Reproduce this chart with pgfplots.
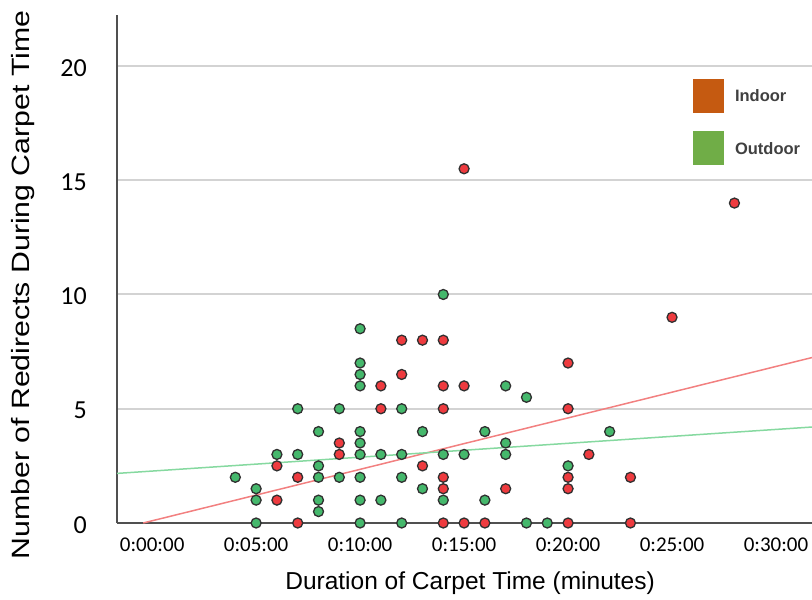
\documentclass[border=0pt]{standalone}
\usepackage{pgfplots}
\pgfplotsset{compat=1.18}
\usepackage{fontspec}
\setmainfont{Liberation Sans}
\newfontfamily\calfont{Carlito}

\definecolor{indoorPt}{HTML}{EE3B3F}
\definecolor{outdoorPt}{HTML}{45B86C}
\definecolor{indoorKey}{HTML}{C55A11}
\definecolor{outdoorKey}{HTML}{70AD47}
\definecolor{indoorFit}{HTML}{F28080}
\definecolor{outdoorFit}{HTML}{86D9A0}
\definecolor{gridC}{HTML}{D3D3D3}
\definecolor{axisC}{HTML}{505050}
\definecolor{ptEdge}{HTML}{303030}
\definecolor{keyText}{HTML}{404040}

\begin{document}
\begin{tikzpicture}
\begin{axis}[
  scale only axis, width=695pt, height=508pt,
  xmin=-1.69, xmax=31.73, ymin=0, ymax=22.23,
  axis x line*=bottom, axis y line*=left,
  x axis line style={draw=axisC, line width=2pt},
  y axis line style={draw=axisC, line width=2pt},
  ymajorgrids, major grid style={gridC, line width=2pt},
  tick style={draw=none}, major tick length=0pt,
  xtick={0,5,10,15,20,25,30},
  xticklabels={\raisebox{-3pt}{0:00:00},0:05:00,0:10:00,\raisebox{-5pt}{0:15:00},0:20:00,0:25:00,\raisebox{-5pt}{0:30:00}},
  ytick={0,5,10,15,20},
  yticklabels={0,5,10,15,20},
  xticklabel style={font=\calfont\fontsize{21}{21}\selectfont, anchor=north, inner sep=0pt, yshift=-15pt},
  yticklabel style={font=\calfont\fontsize{26}{26}\selectfont, anchor=east, inner sep=0pt, xshift=-30pt, yshift=-2pt},
  clip=false,
  legend style={at={(rel axis cs:0.8283,0.874)}, anchor=north west, draw=none, fill=none,
    inner sep=0pt, outer sep=0pt, row sep=19pt,
    font=\bfseries\fontsize{16.5}{16.5}\selectfont, text=keyText,
    nodes={inner sep=0pt},
    /tikz/every odd column/.append style={column sep=12pt}},
  legend cell align=left,
]
% legend keys
\addlegendimage{legend image code/.code={\fill[indoorKey] (0pt,-15.6pt) rectangle (30pt,17.4pt);}}
\addlegendentry{Indoor}
\addlegendimage{legend image code/.code={\fill[outdoorKey] (0pt,-15.6pt) rectangle (30pt,17.4pt);}}
\addlegendentry{Outdoor}

% linear fits
\addplot[indoorFit, line width=1.5pt, forget plot] coordinates {(-0.43,0) (31.73,7.24)};
\addplot[outdoorFit, line width=1.5pt, forget plot] coordinates {(-1.69,2.17) (31.73,4.20)};

% outdoor observations (minutes, redirects)
\addplot[only marks, mark=*, mark size=5pt, mark options={fill=outdoorPt, draw=ptEdge, line width=1.3pt}, forget plot]
coordinates {
(4,2)
(5,1.5) (5,1) (5,0)
(6,3)
(7,5) (7,3)
(8,4) (8,2.5) (8,2) (8,1) (8,0.5)
(9,5) (9,2)
(10,8.5) (10,7) (10,6.5) (10,6) (10,4) (10,3.5) (10,3) (10,2) (10,1) (10,0)
(11,3) (11,1)
(12,5) (12,3) (12,2) (12,0)
(13,4) (13,1.5)
(14,10) (14,3) (14,1)
(15,3)
(16,4) (16,1)
(17,6) (17,3.5) (17,3)
(18,5.5) (18,0)
(19,0)
(20,2.5)
(22,4)
};

% indoor observations (minutes, redirects)
\addplot[only marks, mark=*, mark size=5pt, mark options={fill=indoorPt, draw=ptEdge, line width=1.3pt}, forget plot]
coordinates {
(6,2.5) (6,1)
(7,2) (7,0)
(9,3.5) (9,3)
(11,6) (11,5)
(12,8) (12,6.5)
(13,8) (13,2.5)
(14,8) (14,6) (14,5) (14,2) (14,1.5) (14,0)
(15,15.5) (15,6) (15,0)
(16,0)
(17,1.5)
(20,7) (20,5) (20,2) (20,1.5) (20,0)
(21,3)
(23,2) (23,0)
(25,9)
(28,14)
};

\node[rotate=90, font=\fontsize{25}{25}\selectfont] at (rel axis cs:-0.1353,0.4685)
  {\scalebox{1.21}[1]{Number of Redirects During Carpet Time}};
\node[font=\fontsize{24.5}{24.5}\selectfont] at (rel axis cs:0.508,-0.118)
  {Duration of Carpet Time (minutes)};
\end{axis}
\pgfresetboundingbox
\path[use as bounding box] ([shift={(-117pt,-77pt)}]current axis.south west) rectangle ++(812pt,600pt);
\end{tikzpicture}
\end{document}
